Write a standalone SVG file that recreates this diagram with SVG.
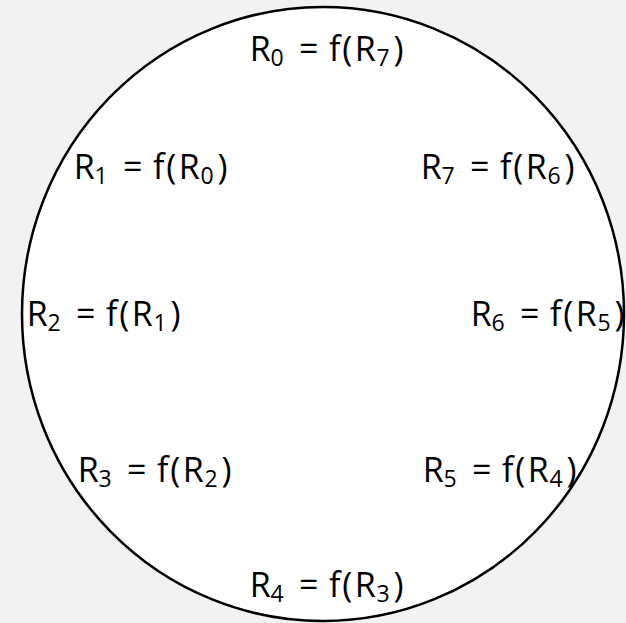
<svg xmlns="http://www.w3.org/2000/svg" width="626" height="623" viewBox="0 0 626 623">
<style>
.lbl{font-family:"Open Sans","Noto Sans",sans-serif;font-size:34px;fill:#000}
.sub{font-size:23px}
</style>
<rect x="0" y="0" width="626" height="623" fill="#f2f2f2"/>
<g id="ring">
<ellipse cx="323" cy="314" rx="301" ry="307" fill="#fff" stroke="#000" stroke-width="2.5"/>
</g>
<g id="connectors"></g>
<g id="n0" transform="translate(253,61)"><text class="lbl"><tspan x="-3.3">R</tspan><tspan class="sub" x="17.5" dy="5">0</tspan><tspan x="46" dy="-5">=</tspan><tspan x="76">f</tspan><tspan x="89.3">(</tspan><tspan x="101.7">R</tspan><tspan class="sub" x="123.6" dy="5">7</tspan><tspan x="140.5" dy="-5">)</tspan></text></g>
<g id="n1" transform="translate(77,179)"><text class="lbl"><tspan x="-3.3">R</tspan><tspan class="sub" x="17.5" dy="5">1</tspan><tspan x="46" dy="-5">=</tspan><tspan x="76">f</tspan><tspan x="89.3">(</tspan><tspan x="101.7">R</tspan><tspan class="sub" x="123.6" dy="5">0</tspan><tspan x="140.5" dy="-5">)</tspan></text></g>
<g id="n7" transform="translate(424,179)"><text class="lbl"><tspan x="-3.3">R</tspan><tspan class="sub" x="17.5" dy="5">7</tspan><tspan x="46" dy="-5">=</tspan><tspan x="76">f</tspan><tspan x="89.3">(</tspan><tspan x="101.7">R</tspan><tspan class="sub" x="123.6" dy="5">6</tspan><tspan x="140.5" dy="-5">)</tspan></text></g>
<g id="n2" transform="translate(30,326)"><text class="lbl"><tspan x="-3.3">R</tspan><tspan class="sub" x="17.5" dy="5">2</tspan><tspan x="46" dy="-5">=</tspan><tspan x="76">f</tspan><tspan x="89.3">(</tspan><tspan x="101.7">R</tspan><tspan class="sub" x="123.6" dy="5">1</tspan><tspan x="140.5" dy="-5">)</tspan></text></g>
<g id="n6" transform="translate(474,326)"><text class="lbl"><tspan x="-3.3">R</tspan><tspan class="sub" x="17.5" dy="5">6</tspan><tspan x="46" dy="-5">=</tspan><tspan x="76">f</tspan><tspan x="89.3">(</tspan><tspan x="101.7">R</tspan><tspan class="sub" x="123.6" dy="5">5</tspan><tspan x="140.5" dy="-5">)</tspan></text></g>
<g id="n3" transform="translate(81,482)"><text class="lbl"><tspan x="-3.3">R</tspan><tspan class="sub" x="17.5" dy="5">3</tspan><tspan x="46" dy="-5">=</tspan><tspan x="76">f</tspan><tspan x="89.3">(</tspan><tspan x="101.7">R</tspan><tspan class="sub" x="123.6" dy="5">2</tspan><tspan x="140.5" dy="-5">)</tspan></text></g>
<g id="n5" transform="translate(426,482)"><text class="lbl"><tspan x="-3.3">R</tspan><tspan class="sub" x="17.5" dy="5">5</tspan><tspan x="46" dy="-5">=</tspan><tspan x="76">f</tspan><tspan x="89.3">(</tspan><tspan x="101.7">R</tspan><tspan class="sub" x="123.6" dy="5">4</tspan><tspan x="140.5" dy="-5">)</tspan></text></g>
<g id="n4" transform="translate(253,597)"><text class="lbl"><tspan x="-3.3">R</tspan><tspan class="sub" x="17.5" dy="5">4</tspan><tspan x="46" dy="-5">=</tspan><tspan x="76">f</tspan><tspan x="89.3">(</tspan><tspan x="101.7">R</tspan><tspan class="sub" x="123.6" dy="5">3</tspan><tspan x="140.5" dy="-5">)</tspan></text></g>
</svg>
